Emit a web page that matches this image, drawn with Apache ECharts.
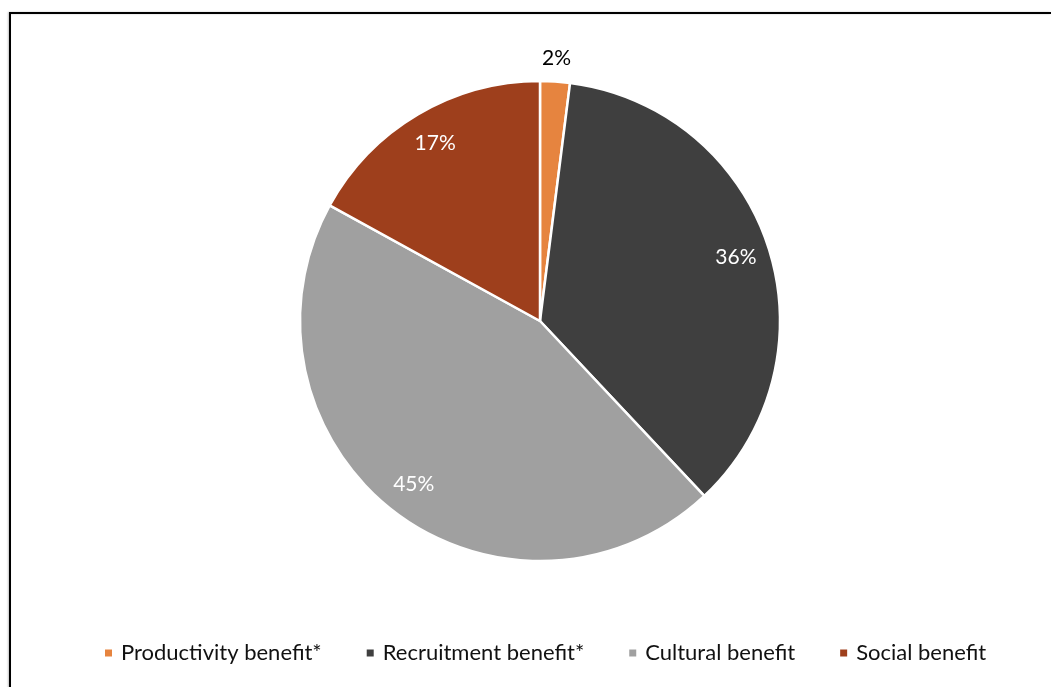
<!DOCTYPE html>
<html>
<head>
<meta charset="utf-8">
<script src="https://cdn.jsdelivr.net/npm/echarts@6/dist/echarts.min.js"></script>
<style>
html,body{margin:0;padding:0;background:#fff;}
#c{width:1056px;height:687px;}
</style>
</head>
<body>
<div id="c"></div>
<script>
const categories = ['Productivity benefit*', 'Recruitment benefit*', 'Cultural benefit', 'Social benefit'];
const values = [2, 36, 45, 17];
const colors = ['#E6843F', '#3F3F3F', '#A0A0A0', '#9E3F1C'];
const insideLabel = [false, true, true, true];

const font = 'Lato, "Open Sans", sans-serif';
const chart = echarts.init(document.getElementById('c'));

const mainData = categories.map((n, i) => ({ name: n, value: values[i], itemStyle: { color: colors[i] } }));
const ringInner = categories.map((n, i) => ({
  name: n, value: values[i],
  label: { show: insideLabel[i] }
}));
const ringOuter = categories.map((n, i) => ({
  name: n, value: values[i],
  label: { show: !insideLabel[i] }
}));

chart.setOption({
  animation: false,
  backgroundColor: '#fff',
  legend: {
    bottom: 18,
    left: 98,
    itemWidth: 9,
    itemHeight: 9,
    itemGap: 43,
    icon: 'rect',
    selectedMode: false,
    textStyle: { fontFamily: font, fontSize: 22, color: '#111', padding: [0, 0, 0, 3] },
    data: categories.map((n, i) => ({ name: n, itemStyle: { color: colors[i] } }))
  },
  graphic: [{
    type: 'polyline',
    shape: { points: [[10, 700], [10, 13], [1051, 13]] },
    style: { stroke: '#000', lineWidth: 2, fill: null, shadowColor: 'rgba(0,0,0,0.25)', shadowBlur: 2, shadowOffsetX: -1 },
    silent: true
  }],
  series: [
    {
      type: 'pie',
      center: [540, 321],
      radius: 240,
      startAngle: 90,
      clockwise: true,
      label: { show: false },
      labelLine: { show: false },
      itemStyle: { borderColor: '#fff', borderWidth: 2.5 },
      emphasis: { disabled: true },
      data: mainData
    },
    {
      type: 'pie',
      center: [540, 321],
      radius: [166, 240],
      startAngle: 90,
      clockwise: true,
      silent: true,
      itemStyle: { color: 'rgba(0,0,0,0)' },
      label: { position: 'inside', formatter: '{d}%', fontFamily: font, fontSize: 21, color: '#fff' },
      labelLine: { show: false },
      emphasis: { disabled: true },
      data: ringInner
    },
    {
      type: 'pie',
      center: [540, 321],
      radius: [244, 276],
      startAngle: 90,
      clockwise: true,
      silent: true,
      itemStyle: { color: 'rgba(0,0,0,0)' },
      label: { position: 'inside', formatter: '{d}%', fontFamily: font, fontSize: 21, color: '#000' },
      labelLine: { show: false },
      emphasis: { disabled: true },
      data: ringOuter
    }
  ]
});
</script>
</body>
</html>
